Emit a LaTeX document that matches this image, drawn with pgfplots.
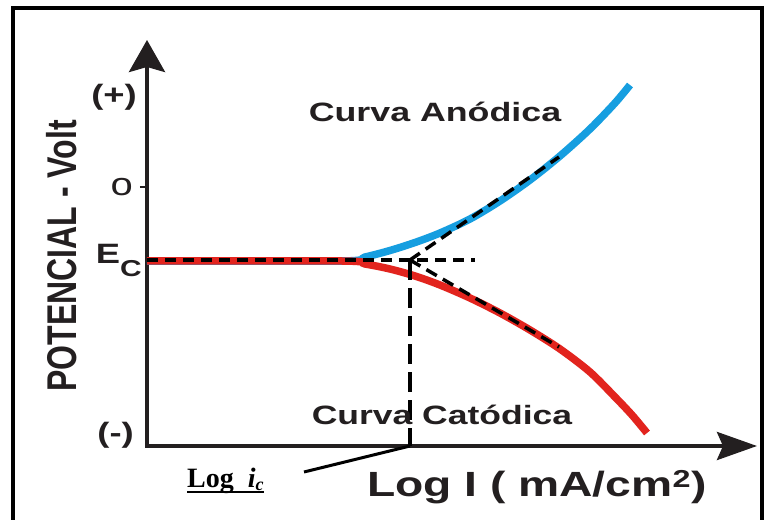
\documentclass[border=0pt]{standalone}
\usepackage{pgfplots}
\pgfplotsset{compat=1.18}
\usepackage{fontspec}
\usepackage{graphicx}
\setmainfont{Liberation Sans}
\newfontfamily\timesf{Liberation Serif}
\usetikzlibrary{arrows.meta}
\definecolor{axc}{RGB}{35,31,32}
\definecolor{anod}{RGB}{22,158,224}
\definecolor{catod}{RGB}{226,36,30}
\newcommand\fs[1]{\fontsize{#1bp}{#1bp}\selectfont}
\newcommand\ulx[1]{\setbox0=\hbox{#1}\rlap{\vrule height -3.7bp depth 6.3bp width \wd0}\box0}
\begin{document}
\begin{tikzpicture}
\useasboundingbox (0,0) rectangle (768bp,520bp);
\fill[white] (0,0) rectangle (768bp,520bp);
\draw[line width=4bp] (13bp,-10bp) rectangle (762bp,512bp);
\begin{axis}[
  at={(147bp,74bp)}, anchor=south west,
  x=1bp, y=1bp, xmin=0, xmax=610, ymin=0, ymax=406,
  enlargelimits=false, clip=false,
  axis lines=left,
  axis line style={line width=4bp, color=axc, line cap=rect},
  x axis line style={-{Stealth[length=40bp,width=28bp,inset=6bp]}},
  y axis line style={-{Stealth[length=32bp,width=36bp,inset=5bp]}},
  xtick=\empty,
  ytick={11,186,259,349},
  yticklabels={{\scalebox{1.3}[1]{\fs{28}\bfseries (-)}\hspace*{3bp}},
               {\scalebox{1.3}[1]{\fs{28}\bfseries E\raisebox{-13bp}{\fs{23}C}}\hspace*{-5bp}},
               {\scalebox{1.25}[1]{\fs{32}o}\hspace*{4bp}},
               {\scalebox{1.3}[1]{\fs{28}\bfseries (+)}}},
  major tick length=0pt,
  yticklabel style={text=axc, inner sep=0pt, xshift=-10bp},
  extra y ticks={259}, extra y tick labels={},
  extra y tick style={major tick length=7bp, tick align=outside, tick style={line width=2.5bp, color=axc}},
  xlabel={\scalebox{1.32}[1]{\fs{35}\bfseries Log I ( mA/cm\textsuperscript{2})}},
  xlabel style={at={(axis description cs:0.639,-0.1256)}, anchor=base, text=axc, inner sep=0pt},
  ylabel={\scalebox{1}[1.3]{\fs{32}\bfseries POTENCIAL - Volt}},
  ylabel style={at={(axis description cs:-0.1402,0.468)}, anchor=center, text=axc, inner sep=0pt},
]
% anodic curve
\addplot[color=anod, line width=7.5bp, smooth, tension=0.5] coordinates {
  (0,185) (195,185) (218,189) (243,195.5) (268,203.5) (293,213) (323,227) (353,245)
  (383,266) (413,290) (443,317) (468,343) (483,361)};
% cathodic curve
\addplot[color=catod, line width=7.5bp, smooth, tension=0.5] coordinates {
  (0,185) (195,185) (218,182) (243,177) (268,170) (293,161) (323,148) (353,133)
  (383,116) (413,97) (443,74) (468,49) (485,31) (500,13)};
% Tafel extrapolations
\addplot[black, line width=3.5bp, dash pattern=on 11bp off 7bp] coordinates {(0,186) (328,186)};
\addplot[black, line width=3.5bp, dash pattern=on 20bp off 8bp] coordinates {(263,186) (263,0)};
\addplot[black, line width=3.5bp, dash pattern=on 12bp off 7bp] coordinates {(263,186) (412,289)};
\addplot[black, line width=3.5bp, dash pattern=on 12bp off 7bp] coordinates {(263,186) (412,99)};
% labels
\node[anchor=base, text=axc, inner sep=0pt] at (axis cs:288,325) {\scalebox{1.35}[1]{\fs{26.5}\bfseries Curva Anódica}};
\node[anchor=base, text=axc, inner sep=0pt] at (axis cs:295,22) {\scalebox{1.34}[1]{\fs{26.5}\bfseries Curva Catódica}};
\draw[black, line width=3bp] (axis cs:157,-26) -- (axis cs:263,0);
\node[anchor=base west, inner sep=0pt] at (axis cs:40,-41) {\timesf\bfseries\fs{28}\ulx{Log\hspace{14bp}\textit{i}\raisebox{-3bp}{\fs{18}\textit{c}}}};
\end{axis}
\end{tikzpicture}
\end{document}
